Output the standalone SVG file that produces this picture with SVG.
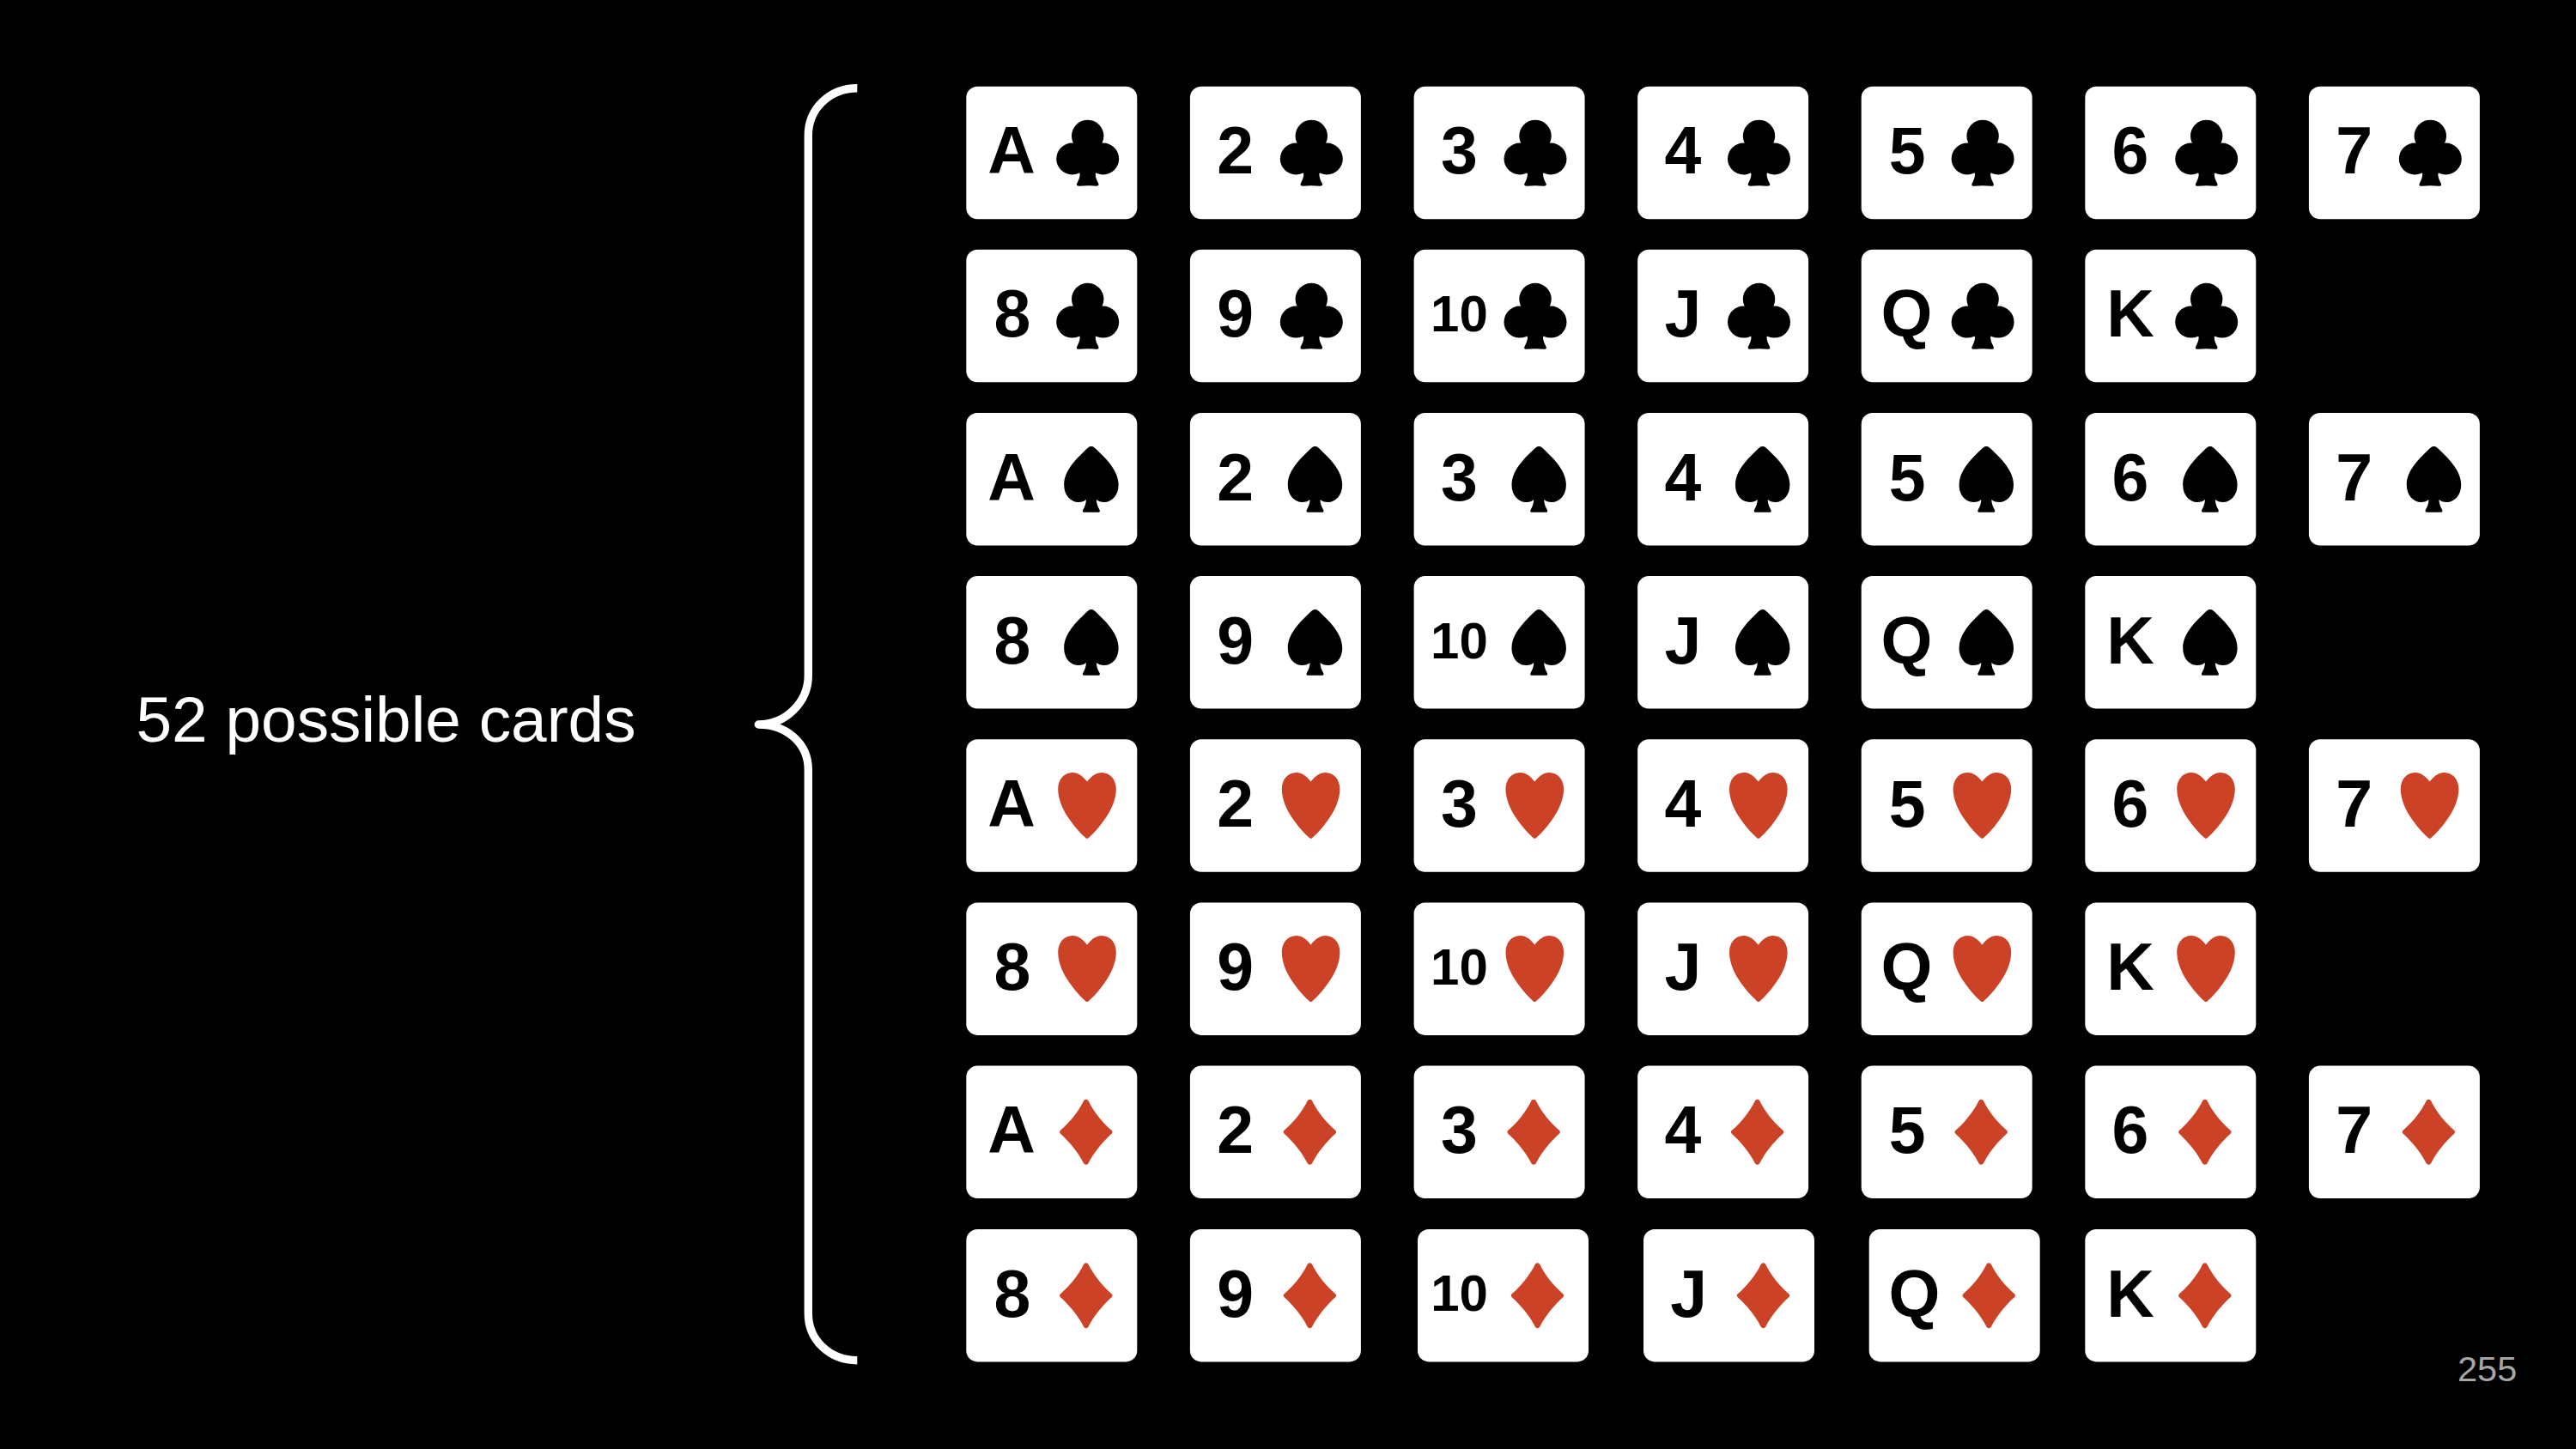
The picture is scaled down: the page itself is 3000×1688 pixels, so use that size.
<svg xmlns="http://www.w3.org/2000/svg" width="3000" height="1688" viewBox="0 0 3000 1688">
<style>
.card{fill:#fff}
.rank{font-family:"Liberation Sans",Arial,sans-serif;font-weight:700;font-size:77px;fill:#000;text-anchor:middle}
.ten{font-size:60px}
.label{font-family:"Liberation Sans",Arial,sans-serif;font-size:74.8px;fill:#fff}
.page{font-family:"Liberation Sans",Arial,sans-serif;font-size:41.5px;fill:#a6a6a6}
.brace{fill:none;stroke:#fff;stroke-width:9.4;stroke-linejoin:round;stroke-linecap:butt}
</style>
<defs>
<rect id="c" class="card" width="199" height="154.5" rx="13"/>
<g id="club" fill="#000">
<circle cx="141.4" cy="57.7" r="18.7"/><circle cx="123.4" cy="84.3" r="18.5"/><circle cx="159.4" cy="84.3" r="18.5"/>
<path d="M132.4 68H150.4L159.4 84L150.4 102C150.4 106 152.4 110 153.9 113C154.9 115.5 153.4 116 151.4 116Q141.4 115 131.4 116C129.4 116 127.9 115.5 128.9 113C130.4 110 132.4 106 132.4 102L123.4 84Z"/>
</g>
<path id="spade" fill="#000" d="M145.6 39C142.6 39 141.6 41 139.6 42.5C127.6 54 113.6 68 113.9 84C113.9 96 121.6 104 130.6 104C134.6 104 137.6 103 139.6 101C139.6 106 137.6 110 135.9 113C135.1 115 136.1 115.7 137.6 115.7H153.6C155.1 115.7 156.1 115 155.3 113C153.6 110 151.6 106 151.6 101C153.6 103 156.6 104 160.6 104C169.6 104 177.3 96 177.3 84C177.6 68 163.6 54 151.6 42.5C149.6 41 148.6 39 145.6 39Z"/>
<path id="heart" fill="#cb4226" d="M140.7 49.3C135.7 43 130.7 38.7 123.7 38.7C113.7 38.7 106.9 47 106.9 58C106.9 70 112.7 83 120.7 94C127.7 104 134.7 111 139.2 115Q140.7 116 142.2 115C146.7 111 153.7 104 160.7 94C168.7 83 174.5 70 174.5 58C174.5 47 167.7 38.7 157.7 38.7C150.7 38.7 145.7 43 140.7 49.3Z"/>
<path id="diamond" fill="#cb4226" d="M137 40.5Q139.5 38 142 40.5C148.5 54 159.5 67 169.5 75.5Q171 77.3 169.5 79C159.5 88 148.5 101 142 114Q139.5 116.5 137 114C130.5 101 119.5 88 109.5 79Q108 77.3 109.5 75.5C119.5 67 130.5 54 137 40.5Z"/>
</defs>
<rect id="background" width="3000" height="1688" fill="#000"/>
<g id="connectors">
<path class="brace" d="M998.3 102.7C966 102.7 941.3 127 941.3 158V786.7C941.3 818 915 844 883.3 844C915 844 941.3 865 941.3 896.7V1530C941.3 1561 966 1584.7 998.3 1584.7"/>
</g>
<g id="label-52-possible-cards"><text class="label" x="158.5" y="864">52 possible cards</text></g>
<g id="page-number"><text class="page" x="2862" y="1609">255</text></g>

<g id="card-A-clubs" transform="translate(1125.3 100.7)"><use href="#c"/><text class="rank" x="52.7" y="101.7">A</text><use href="#club"/></g>
<g id="card-2-clubs" transform="translate(1385.9 100.7)"><use href="#c"/><text class="rank" x="52.7" y="101.7">2</text><use href="#club"/></g>
<g id="card-3-clubs" transform="translate(1646.6 100.7)"><use href="#c"/><text class="rank" x="52.7" y="101.7">3</text><use href="#club"/></g>
<g id="card-4-clubs" transform="translate(1907.1 100.7)"><use href="#c"/><text class="rank" x="52.7" y="101.7">4</text><use href="#club"/></g>
<g id="card-5-clubs" transform="translate(2167.7 100.7)"><use href="#c"/><text class="rank" x="53.5" y="101.7">5</text><use href="#club"/></g>
<g id="card-6-clubs" transform="translate(2428.3 100.7)"><use href="#c"/><text class="rank" x="52.7" y="101.7">6</text><use href="#club"/></g>
<g id="card-7-clubs" transform="translate(2688.9 100.7)"><use href="#c"/><text class="rank" x="52.7" y="101.7">7</text><use href="#club"/></g>
<g id="card-8-clubs" transform="translate(1125.3 290.8)"><use href="#c"/><text class="rank" x="53.5" y="101.7">8</text><use href="#club"/></g>
<g id="card-9-clubs" transform="translate(1385.9 290.8)"><use href="#c"/><text class="rank" x="52.7" y="101.7">9</text><use href="#club"/></g>
<g id="card-10-clubs" transform="translate(1646.6 290.8)"><use href="#c"/><text class="rank ten" x="52.9" y="95.5">10</text><use href="#club"/></g>
<g id="card-J-clubs" transform="translate(1907.1 290.8)"><use href="#c"/><text class="rank" x="52.7" y="101.7">J</text><use href="#club"/></g>
<g id="card-Q-clubs" transform="translate(2167.7 290.8)"><use href="#c"/><text class="rank" x="52.7" y="101.7">Q</text><use href="#club"/></g>
<g id="card-K-clubs" transform="translate(2428.3 290.8)"><use href="#c"/><text class="rank" x="52.7" y="101.7">K</text><use href="#club"/></g>

<g id="card-A-spades" transform="translate(1125.3 481)"><use href="#c"/><text class="rank" x="52.7" y="101.7">A</text><use href="#spade"/></g>
<g id="card-2-spades" transform="translate(1385.9 481)"><use href="#c"/><text class="rank" x="52.7" y="101.7">2</text><use href="#spade"/></g>
<g id="card-3-spades" transform="translate(1646.6 481)"><use href="#c"/><text class="rank" x="52.7" y="101.7">3</text><use href="#spade"/></g>
<g id="card-4-spades" transform="translate(1907.1 481)"><use href="#c"/><text class="rank" x="52.7" y="101.7">4</text><use href="#spade"/></g>
<g id="card-5-spades" transform="translate(2167.7 481)"><use href="#c"/><text class="rank" x="53.5" y="101.7">5</text><use href="#spade"/></g>
<g id="card-6-spades" transform="translate(2428.3 481)"><use href="#c"/><text class="rank" x="52.7" y="101.7">6</text><use href="#spade"/></g>
<g id="card-7-spades" transform="translate(2688.9 481)"><use href="#c"/><text class="rank" x="52.7" y="101.7">7</text><use href="#spade"/></g>
<g id="card-8-spades" transform="translate(1125.3 671.1)"><use href="#c"/><text class="rank" x="53.5" y="101.7">8</text><use href="#spade"/></g>
<g id="card-9-spades" transform="translate(1385.9 671.1)"><use href="#c"/><text class="rank" x="52.7" y="101.7">9</text><use href="#spade"/></g>
<g id="card-10-spades" transform="translate(1646.6 671.1)"><use href="#c"/><text class="rank ten" x="52.9" y="95.5">10</text><use href="#spade"/></g>
<g id="card-J-spades" transform="translate(1907.1 671.1)"><use href="#c"/><text class="rank" x="52.7" y="101.7">J</text><use href="#spade"/></g>
<g id="card-Q-spades" transform="translate(2167.7 671.1)"><use href="#c"/><text class="rank" x="52.7" y="101.7">Q</text><use href="#spade"/></g>
<g id="card-K-spades" transform="translate(2428.3 671.1)"><use href="#c"/><text class="rank" x="52.7" y="101.7">K</text><use href="#spade"/></g>

<g id="card-A-hearts" transform="translate(1125.3 861.3)"><use href="#c"/><text class="rank" x="52.7" y="101.7">A</text><use href="#heart"/></g>
<g id="card-2-hearts" transform="translate(1385.9 861.3)"><use href="#c"/><text class="rank" x="52.7" y="101.7">2</text><use href="#heart"/></g>
<g id="card-3-hearts" transform="translate(1646.6 861.3)"><use href="#c"/><text class="rank" x="52.7" y="101.7">3</text><use href="#heart"/></g>
<g id="card-4-hearts" transform="translate(1907.1 861.3)"><use href="#c"/><text class="rank" x="52.7" y="101.7">4</text><use href="#heart"/></g>
<g id="card-5-hearts" transform="translate(2167.7 861.3)"><use href="#c"/><text class="rank" x="53.5" y="101.7">5</text><use href="#heart"/></g>
<g id="card-6-hearts" transform="translate(2428.3 861.3)"><use href="#c"/><text class="rank" x="52.7" y="101.7">6</text><use href="#heart"/></g>
<g id="card-7-hearts" transform="translate(2688.9 861.3)"><use href="#c"/><text class="rank" x="52.7" y="101.7">7</text><use href="#heart"/></g>
<g id="card-8-hearts" transform="translate(1125.3 1051.4)"><use href="#c"/><text class="rank" x="53.5" y="101.7">8</text><use href="#heart"/></g>
<g id="card-9-hearts" transform="translate(1385.9 1051.4)"><use href="#c"/><text class="rank" x="52.7" y="101.7">9</text><use href="#heart"/></g>
<g id="card-10-hearts" transform="translate(1646.6 1051.4)"><use href="#c"/><text class="rank ten" x="52.9" y="95.5">10</text><use href="#heart"/></g>
<g id="card-J-hearts" transform="translate(1907.1 1051.4)"><use href="#c"/><text class="rank" x="52.7" y="101.7">J</text><use href="#heart"/></g>
<g id="card-Q-hearts" transform="translate(2167.7 1051.4)"><use href="#c"/><text class="rank" x="52.7" y="101.7">Q</text><use href="#heart"/></g>
<g id="card-K-hearts" transform="translate(2428.3 1051.4)"><use href="#c"/><text class="rank" x="52.7" y="101.7">K</text><use href="#heart"/></g>

<g id="card-A-diamonds" transform="translate(1125.3 1241.6)"><use href="#c"/><text class="rank" x="52.7" y="101.7">A</text><use href="#diamond"/></g>
<g id="card-2-diamonds" transform="translate(1385.9 1241.6)"><use href="#c"/><text class="rank" x="52.7" y="101.7">2</text><use href="#diamond"/></g>
<g id="card-3-diamonds" transform="translate(1646.6 1241.6)"><use href="#c"/><text class="rank" x="52.7" y="101.7">3</text><use href="#diamond"/></g>
<g id="card-4-diamonds" transform="translate(1907.1 1241.6)"><use href="#c"/><text class="rank" x="52.7" y="101.7">4</text><use href="#diamond"/></g>
<g id="card-5-diamonds" transform="translate(2167.7 1241.6)"><use href="#c"/><text class="rank" x="53.5" y="101.7">5</text><use href="#diamond"/></g>
<g id="card-6-diamonds" transform="translate(2428.3 1241.6)"><use href="#c"/><text class="rank" x="52.7" y="101.7">6</text><use href="#diamond"/></g>
<g id="card-7-diamonds" transform="translate(2688.9 1241.6)"><use href="#c"/><text class="rank" x="52.7" y="101.7">7</text><use href="#diamond"/></g>
<g id="card-8-diamonds" transform="translate(1125.3 1431.9)"><use href="#c"/><text class="rank" x="53.5" y="101.7">8</text><use href="#diamond"/></g>
<g id="card-9-diamonds" transform="translate(1385.9 1431.9)"><use href="#c"/><text class="rank" x="52.7" y="101.7">9</text><use href="#diamond"/></g>
<g id="card-10-diamonds" transform="translate(1651 1431.9)"><use href="#c"/><text class="rank ten" x="48.5" y="95.5">10</text><use href="#diamond"/></g>
<g id="card-J-diamonds" transform="translate(1914 1431.9)"><use href="#c"/><text class="rank" x="52.7" y="101.7">J</text><use href="#diamond"/></g>
<g id="card-Q-diamonds" transform="translate(2176.7 1431.9)"><use href="#c"/><text class="rank" x="52.7" y="101.7">Q</text><use href="#diamond"/></g>
<g id="card-K-diamonds" transform="translate(2428.3 1431.9)"><use href="#c"/><text class="rank" x="52.7" y="101.7">K</text><use href="#diamond"/></g>
</svg>
